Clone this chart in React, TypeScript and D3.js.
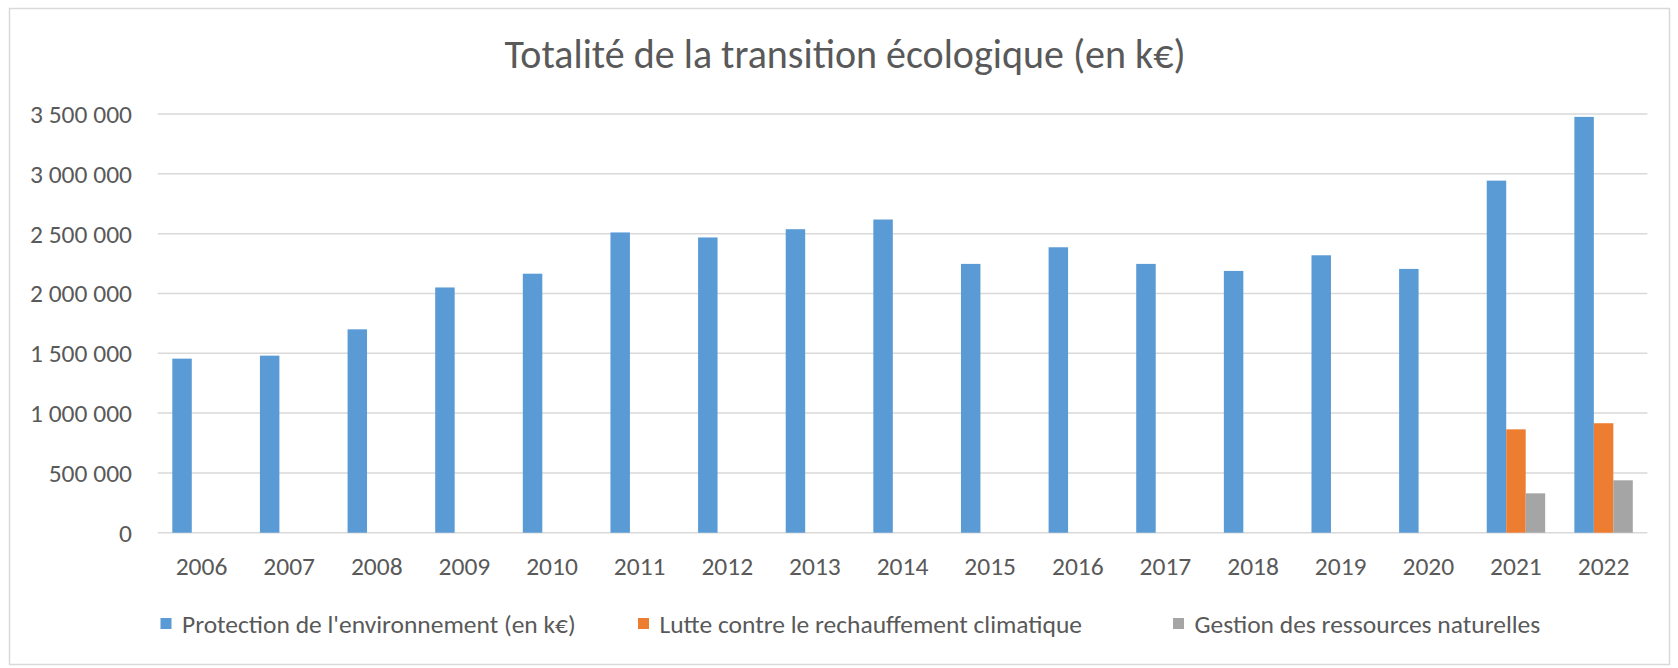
import React from "react";
import * as d3 from "d3";

const years = ["2006","2007","2008","2009","2010","2011","2012","2013","2014","2015","2016","2017","2018","2019","2020","2021","2022"];
const protection = [1455000,1480000,1700000,2050000,2165000,2510000,2468000,2537000,2618000,2247000,2386000,2247000,2188000,2319000,2205000,2943000,3476000];
const lutte = [null,null,null,null,null,null,null,null,null,null,null,null,null,null,null,864000,915000];
const gestion = [null,null,null,null,null,null,null,null,null,null,null,null,null,null,null,329000,438000];
const yTicks = [0,500000,1000000,1500000,2000000,2500000,3000000,3500000];
const seriesNames = ["Protection de l'environnement (en k€)","Lutte contre le rechauffement climatique","Gestion des ressources naturelles"];
const seriesColors = ["#5B9BD5","#ED7D31","#A5A5A5"];
const title = "Totalité de la transition écologique (en k€)";

const W = 1678, H = 668;
const FONT = "Calibri, Carlito, Lato, sans-serif";
const TXT = "#595959";
const LBL = 25.5;

export default function App() {
  const x = d3.scaleBand<string>().domain(years).range([157.7, 1647.4]).paddingInner(0).paddingOuter(0);
  const y = d3.scaleLinear().domain([0, 3500000]).range([532.7, 114]);
  const step = x.bandwidth();
  const bw = step / 4.5;
  const inner = d3.scaleBand<number>().domain([0,1,2]).range([0.75 * bw, 3.75 * bw]).padding(0);
  const fmt = d3.formatLocale({ thousands: "\u00a0", grouping: [3], decimal: ",", currency: ["", "€"] }).format(",d");
  const series = [protection, lutte, gestion];

  const legendX = [160.5, 638, 1173];

  return (
    <div style={{ position: "absolute", left: 0, top: 0 }}>
      <svg width={W} height={H} style={{ display: "block", background: "#fff" }}>
        <rect x={9.5} y={8.5} width={1660} height={656} fill="#fff" stroke="#D9D9D9" strokeWidth={1.5} />
        <text x={845} y={68} textAnchor="middle" fontFamily={FONT} fontSize={40} fill={TXT}>{title}</text>
        {yTicks.map((t) => (
          <g key={t}>
            <line x1={157.7} x2={1647.4} y1={y(t)} y2={y(t)} stroke="#D9D9D9" strokeWidth={1.5} />
            <text x={132} y={y(t)} dy="0.35em" textAnchor="end" fontFamily={FONT} fontSize={LBL} fill={TXT}>{fmt(t)}</text>
          </g>
        ))}
        {series.map((vals, si) =>
          vals.map((v, i) =>
            v == null ? null : (
              <rect key={si + "-" + i}
                x={(x(years[i]) as number) + (inner(si) as number)}
                y={y(v)}
                width={inner.bandwidth()}
                height={y(0) - y(v)}
                fill={seriesColors[si]} />
            )
          )
        )}
        {years.map((yr) => (
          <text key={yr} x={(x(yr) as number) + step / 2} y={566} dy="0.35em" textAnchor="middle" fontFamily={FONT} fontSize={LBL} fill={TXT}>{yr}</text>
        ))}
        {seriesNames.map((n, i) => (
          <g key={n}>
            <rect x={legendX[i]} y={618} width={11} height={11} fill={seriesColors[i]} />
            <text x={legendX[i] + 21.5} y={624} dy="0.35em" fontFamily={FONT} fontSize={LBL} fill={TXT}>{n}</text>
          </g>
        ))}
      </svg>
    </div>
  );
}
